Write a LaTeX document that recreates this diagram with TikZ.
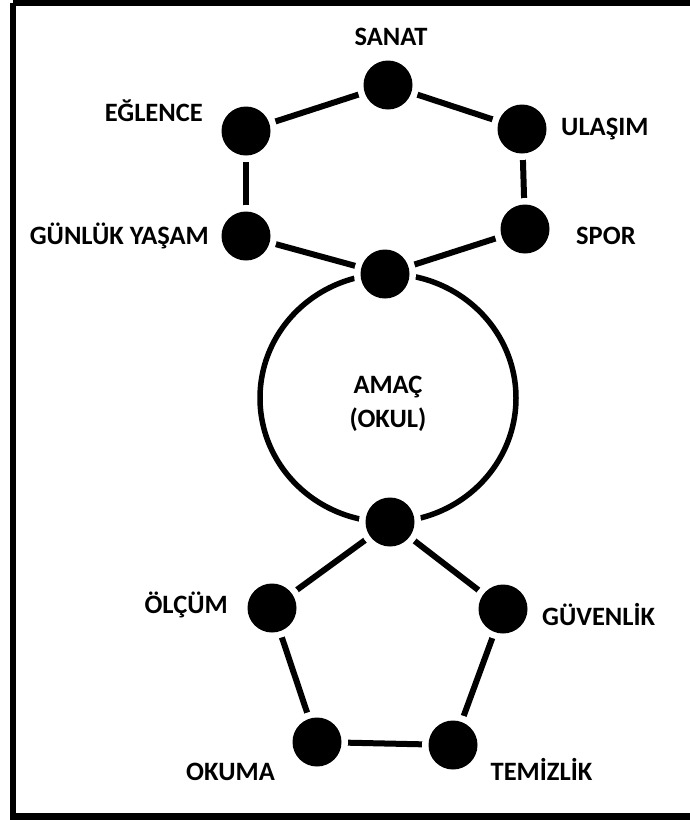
\documentclass[tikz,border=0pt]{standalone}
\usepackage{fontspec}
\setmainfont{Carlito}
\usetikzlibrary{backgrounds}
\begin{document}
\begin{tikzpicture}[x=1pt,y=-1pt,
  dot/.style={circle, fill=black, minimum size=49pt, inner sep=0pt, outer sep=0pt,
              preaction={draw=white, line width=13pt}},
  lbl/.style={font=\fontsize{26.5}{34}\selectfont\bfseries, inner sep=0pt,
              text height=17pt, text depth=0pt},
  link/.style={line width=6pt},
  frame/.style={line width=6.5pt}]
\useasboundingbox (0,0) rectangle (689,820);

% points of the two rings
\node[dot] (sanat)    at (388,85)  {};
\node[dot] (eglence)  at (246,131) {};
\node[dot] (ulasim)   at (522,129) {};
\node[dot] (gunluk)   at (246,236) {};
\node[dot] (spor)     at (525,229) {};
\node[dot] (ust)      at (385,274) {};
\node[dot] (alt)      at (390,522) {};
\node[dot] (olcum)    at (272,608) {};
\node[dot] (guvenlik) at (503,609) {};
\node[dot] (okuma)    at (317,742) {};
\node[dot] (temizlik) at (453,745) {};

% labels
\node[lbl] (tsanat)    at (391,37)  {SANAT};
\node[lbl, anchor=east] (teglence) at (203,113) {EĞLENCE};
\node[lbl, anchor=east] (tgunluk)  at (209,236) {GÜNLÜK YAŞAM};
\node[lbl, anchor=west] (tulasim)  at (561,127) {ULAŞIM};
\node[lbl, anchor=west] (tspor)    at (576,236) {SPOR};
\node[lbl, anchor=east] (tolcum)   at (228,605) {ÖLÇÜM};
\node[lbl, anchor=west] (tguvenlik) at (542,617) {GÜVENLİK};
\node[lbl] (tokuma)    at (230.5,772) {OKUMA};
\node[lbl] (ttemizlik) at (541.5,772) {TEMİZLİK};
\node[font=\fontsize{26.5}{34}\selectfont\bfseries, align=center, inner sep=0pt]
  (amac) at (388,404) {AMAÇ\\(OKUL)};

% connectors and the central ring sit behind the points
\begin{pgfonlayer}{background}
  \draw[link] (eglence) -- (sanat);
  \draw[link] (sanat) -- (ulasim);
  \draw[link] (eglence) -- (gunluk);
  \draw[link] (ulasim) -- (spor);
  \draw[link] (gunluk) -- (ust);
  \draw[link] (spor) -- (ust);
  \draw[line width=5.5pt] (388,398) ellipse [x radius=128pt, y radius=124pt];
  \draw[link] (alt) -- (olcum);
  \draw[link] (alt) -- (guvenlik);
  \draw[link] (olcum) -- (okuma);
  \draw[link] (guvenlik) -- (temizlik);
  \draw[link] (okuma) -- (temizlik);
\end{pgfonlayer}

% outer frame (right side runs past the page edge)
\draw[frame] (13,3) -- (700,3) (13,3) -- (13,816.5) -- (700,816.5);
\end{tikzpicture}
\end{document}
